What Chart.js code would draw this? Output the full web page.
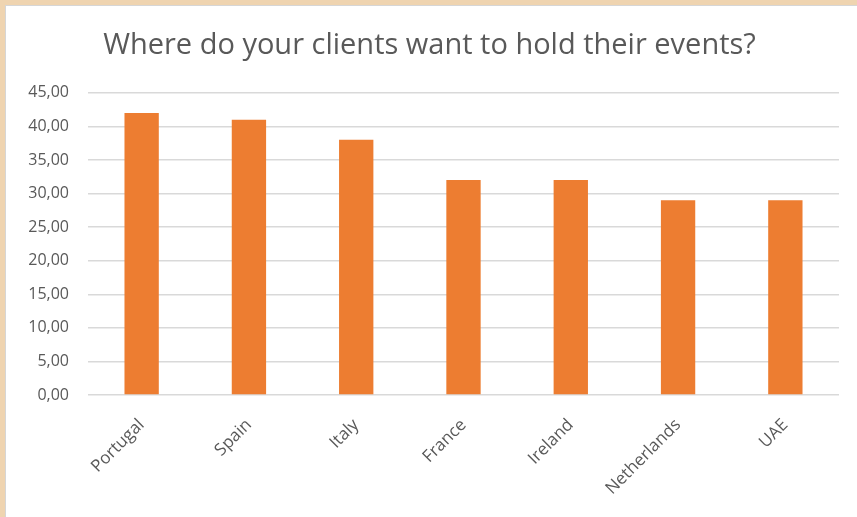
<!DOCTYPE html>
<html>
<head>
<meta charset="utf-8">
<script src="https://cdn.jsdelivr.net/npm/chart.js@4"></script>
<style>
  html, body { margin: 0; padding: 0; background: #fff; }
  #frame {
    position: absolute; left: 0; top: 0; width: 857px; height: 517px;
    box-sizing: border-box; background: #efd4b0; padding: 5px 0 0 5px;
  }
  #inner {
    width: 852px; height: 512px; box-sizing: border-box; background: #fff;
    border-top: 1px solid #d6d6d6; border-left: 1px solid #d6d6d6;
  }
  canvas { display: block; }
</style>
</head>
<body>
<div id="frame"><div id="inner"><canvas id="chart" width="851" height="511"></canvas></div></div>
<script>
// Dados
const countries = ["Portugal", "Spain", "Italy", "France", "Ireland", "Netherlands", "UAE"];
const percentages = [42, 41, 38, 32, 32, 29, 29];
const yTicks = [0, 5, 10, 15, 20, 25, 30, 35, 40, 45];

const gray = "#595959";
const fontFamily = "'Open Sans', 'Liberation Sans', sans-serif";

new Chart(document.getElementById("chart"), {
  type: "bar",
  data: {
    labels: countries,
    datasets: [{
      data: percentages,
      backgroundColor: "#ed7d31",
      categoryPercentage: 1,
      barPercentage: 0.32,
    }],
  },
  options: {
    responsive: false,
    animation: false,
    layout: { padding: { left: 14, right: 18, top: 22, bottom: 12 } },
    plugins: {
      legend: { display: false },
      tooltip: { enabled: false },
      title: {
        display: true,
        text: "Where do your clients want to hold their events?",
        color: gray,
        font: { family: fontFamily, size: 29, weight: "normal", lineHeight: 1.2 },
        padding: { top: 0, bottom: 30 },
      },
    },
    scales: {
      x: {
        grid: { display: false },
        border: { display: false },
        ticks: {
          color: gray,
          font: { family: fontFamily, size: 17 },
          minRotation: 45,
          maxRotation: 45,
          padding: 12,
        },
        afterFit: (s) => { s.height = 110; },
      },
      y: {
        min: 0,
        max: 45,
        grid: { color: "#d9d9d9", lineWidth: 1.5, drawTicks: false },
        border: { display: false },
        afterBuildTicks: (s) => { s.ticks = yTicks.map((v) => ({ value: v })); },
        ticks: {
          color: gray,
          font: { family: fontFamily, size: 16 },
          padding: 19,
          callback: (v) => v.toFixed(2).replace(".", ","),
        },
        afterFit: (s) => { s.width = 68; },
      },
    },
  },
});
</script>
</body>
</html>
